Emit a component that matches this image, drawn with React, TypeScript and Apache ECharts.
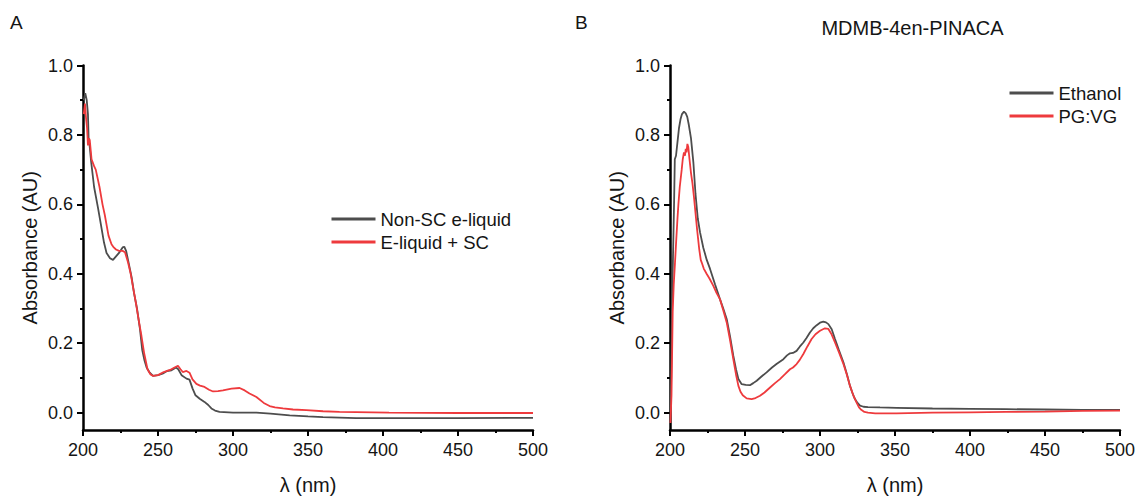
import React, { useEffect, useRef } from "react";
import * as echarts from "echarts";

// ---------- data (wavelength nm, absorbance AU) ----------
const nonScELiquid: [number, number][] = [
  [200.5, 0.9], [201.5, 0.92], [202.5, 0.9], [203.3, 0.86], [203.8, 0.78], [204.4, 0.77],
  [205.5, 0.72], [207.4, 0.65], [210, 0.59], [212, 0.54], [214, 0.49], [215.7, 0.46],
  [218, 0.445], [220, 0.44], [222, 0.45], [224, 0.46], [226.4, 0.476], [227.5, 0.478],
  [228.8, 0.465], [230.5, 0.43], [232.4, 0.39], [234, 0.345], [236, 0.3], [238, 0.24],
  [239.5, 0.18], [241, 0.15], [242.4, 0.13], [244.5, 0.115], [246.7, 0.106], [250, 0.108],
  [253, 0.112], [256, 0.12], [259, 0.122], [262, 0.13], [263.5, 0.125], [265.7, 0.108],
  [269, 0.098], [271, 0.095], [273, 0.07], [275, 0.05], [277.8, 0.04], [281, 0.031],
  [283.5, 0.022], [285.6, 0.012], [288, 0.006], [291, 0.002], [300, 0.0], [310, 0.0],
  [315.6, 0.0], [325, -0.003], [337.8, -0.008], [350, -0.011], [360, -0.013], [382, -0.016],
  [400, -0.016], [450, -0.016], [500, -0.015],
];

const eLiquidSc: [number, number][] = [
  [200.5, 0.86], [201.3, 0.89], [202, 0.85], [202.7, 0.82], [203.3, 0.77], [204, 0.79],
  [204.5, 0.785], [205.7, 0.73], [207.4, 0.71], [208.5, 0.7], [211, 0.65], [213, 0.6],
  [214.5, 0.57], [217, 0.51], [219, 0.485], [220.5, 0.476], [222, 0.47], [224, 0.466],
  [226.4, 0.466], [228, 0.462], [230, 0.433], [231.8, 0.4], [233.6, 0.356], [235.5, 0.31],
  [237, 0.27], [239, 0.22], [240.7, 0.173], [243, 0.125], [245, 0.11], [246.7, 0.106],
  [250, 0.108], [253.8, 0.117], [258, 0.123], [261, 0.13], [263.3, 0.135], [265, 0.125],
  [266.5, 0.117], [269, 0.12], [271, 0.115], [273, 0.096], [275.6, 0.083], [278, 0.078],
  [281, 0.074], [284, 0.066], [286.7, 0.061], [290, 0.062], [293.3, 0.064], [299, 0.069],
  [304.4, 0.071], [307.8, 0.064], [311, 0.055], [315.6, 0.045], [320.5, 0.028],
  [324.4, 0.019], [328, 0.015], [333.3, 0.012], [340, 0.009], [348.9, 0.007], [360, 0.004],
  [371, 0.002], [404, 0.0], [450, -0.001], [500, -0.001],
];

const ethanol: [number, number][] = [
  [200.3, -0.03], [200.8, 0.1], [201.3, 0.29], [202, 0.45], [202.7, 0.6], [203.2, 0.73],
  [204, 0.74], [205, 0.78], [206, 0.82], [207, 0.845], [208, 0.86], [209.3, 0.867],
  [210.5, 0.862], [211.5, 0.852], [212.5, 0.83], [214, 0.79], [215.6, 0.72], [217, 0.63],
  [218.5, 0.56], [220, 0.52], [222.2, 0.475], [224.5, 0.44], [226.7, 0.414], [230, 0.37],
  [233.3, 0.327], [235.5, 0.3], [237.8, 0.27], [240, 0.22], [242.2, 0.164], [244, 0.125],
  [245.6, 0.097], [247.8, 0.082], [250.5, 0.08], [253.3, 0.079], [255.5, 0.085],
  [257.8, 0.092], [261, 0.104], [264.4, 0.116], [268, 0.13], [271, 0.14], [275.6, 0.154],
  [278, 0.165], [280, 0.171], [282, 0.172], [284.4, 0.178], [286.5, 0.19], [288.9, 0.202],
  [291, 0.215], [293.3, 0.231], [295.5, 0.243], [297.8, 0.252], [300, 0.259], [302.2, 0.262],
  [304, 0.26], [305.6, 0.255], [307.8, 0.24], [310, 0.212], [312.6, 0.18], [315.6, 0.145],
  [318, 0.11], [320, 0.077], [321.5, 0.058], [323.3, 0.039], [325, 0.028], [326.7, 0.02],
  [329, 0.017], [332, 0.016], [340, 0.015], [351, 0.014], [375, 0.012], [400, 0.011],
  [424, 0.01], [450, 0.009], [475, 0.008], [500, 0.008],
];

const pgVg: [number, number][] = [
  [200.3, -0.03], [201, 0.05], [201.8, 0.29], [202.5, 0.37], [203.3, 0.43], [204.2, 0.5],
  [205, 0.56], [205.6, 0.6], [206.5, 0.65], [207.8, 0.7], [208.5, 0.73], [209.3, 0.75],
  [210, 0.74], [210.5, 0.76], [211, 0.75], [211.6, 0.774], [212.2, 0.765], [213, 0.73],
  [214, 0.69], [215, 0.66], [216, 0.62], [217, 0.575], [218, 0.53], [219.5, 0.47],
  [220.5, 0.44], [221.1, 0.433], [222.5, 0.415], [224.4, 0.4], [226.5, 0.385],
  [228.9, 0.365], [231, 0.345], [233.3, 0.327], [235.5, 0.295], [237.8, 0.26], [240, 0.21],
  [242.2, 0.154], [244, 0.11], [245.6, 0.077], [247, 0.06], [248.5, 0.05], [251.1, 0.041],
  [254.4, 0.039], [257, 0.042], [260, 0.0485], [263, 0.058], [266.7, 0.0725], [270, 0.085],
  [273.3, 0.0966], [276.5, 0.11], [280, 0.125], [282, 0.13], [284.4, 0.14], [286.5, 0.152],
  [288.9, 0.169], [291.5, 0.19], [294.4, 0.212], [297, 0.226], [300, 0.236], [303.3, 0.243],
  [305.6, 0.241], [307.8, 0.225], [310, 0.202], [312.8, 0.172], [315.6, 0.14], [318, 0.108],
  [320, 0.077], [322.2, 0.05], [324.4, 0.029], [326, 0.015], [327.5, 0.008], [329.6, 0.002],
  [332, 0.0], [336.8, -0.002], [351, -0.002], [375, 0.0], [400, 0.001], [424, 0.002],
  [450, 0.003], [475, 0.005], [500, 0.006],
];

const yMajorTicks = [0, 0.2, 0.4, 0.6, 0.8, 1.0];
const yMinorTicks = [0.1, 0.3, 0.5, 0.7, 0.9];

const seriesNamesA = ["Non-SC e-liquid", "E-liquid + SC"];
const seriesNamesB = ["Ethanol", "PG:VG"];
const panelTitleB = "MDMB-4en-PINACA";
const xAxisName = "λ (nm)";
const yAxisName = "Absorbance (AU)";

// ---------- styles ----------
const FONT = '"Liberation Sans", Arial, Helvetica, sans-serif';
const GRAY = "#4d4d4d";
const RED = "#ee3a3d";
const INK = "#151515";

function makeXAxis(gridIndex: number) {
  return {
    type: "value",
    gridIndex,
    min: 200,
    max: 500,
    interval: 50,
    name: xAxisName,
    nameLocation: "middle",
    nameGap: 45,
    nameTextStyle: { fontSize: 20, color: INK, fontFamily: FONT },
    axisLine: { show: true, onZero: false, lineStyle: { color: "#000", width: 2.5 } },
    axisTick: { show: true, length: 6, lineStyle: { color: "#000", width: 2 } },
    minorTick: { show: true, splitNumber: 2, length: 3, lineStyle: { color: "#000", width: 2 } },
    axisLabel: { fontSize: 18, color: INK, fontFamily: FONT, margin: 11 },
    splitLine: { show: false },
  };
}

function makeYAxes(gridIndex: number) {
  return [
    {
      type: "value",
      gridIndex,
      position: "left",
      min: -0.05,
      max: 1.0,
      name: yAxisName,
      nameLocation: "middle",
      nameGap: 43,
      nameTextStyle: { fontSize: 20, color: INK, fontFamily: FONT },
      axisLine: { show: true, onZero: false, lineStyle: { color: "#000", width: 2.5 } },
      axisTick: { show: true, length: 6, customValues: yMajorTicks, lineStyle: { color: "#000", width: 2 } },
      axisLabel: {
        fontSize: 18,
        color: INK,
        fontFamily: FONT,
        margin: 10,
        customValues: yMajorTicks,
        formatter: (v: number) => v.toFixed(1),
      },
      splitLine: { show: false },
    },
    {
      type: "value",
      gridIndex,
      position: "left",
      min: -0.05,
      max: 1.0,
      axisLine: { show: false },
      axisTick: { show: true, length: 3, customValues: yMinorTicks, lineStyle: { color: "#000", width: 2 } },
      axisLabel: { show: false },
      splitLine: { show: false },
    },
  ];
}

function lineSeries(name: string, data: [number, number][], color: string, axisIdx: number, yIdx: number) {
  return {
    type: "line",
    name,
    data,
    xAxisIndex: axisIdx,
    yAxisIndex: yIdx,
    showSymbol: false,
    symbol: "none",
    color,
    lineStyle: { color, width: 1.8 },
    itemStyle: { color },
    emphasis: { disabled: true },
  };
}

function legendBlock(left: number, top: number, names: string[]) {
  return {
    left,
    top,
    orient: "vertical",
    padding: 0,
    itemWidth: 44,
    itemHeight: 3,
    itemGap: 0,
    selectedMode: false,
    textStyle: { fontSize: 18.5, lineHeight: 23, color: INK, fontFamily: FONT },
    data: names.map((n) => ({ name: n, icon: "rect" })),
  };
}

export default function App() {
  const ref = useRef<HTMLDivElement>(null);

  useEffect(() => {
    if (!ref.current) return;
    const chart = echarts.init(ref.current, undefined, { renderer: "svg" });
    const yA = makeYAxes(0);
    const yB = makeYAxes(1);
    chart.setOption({
      animation: false,
      backgroundColor: "#ffffff",
      grid: [
        { left: 83, top: 65.5, width: 450, height: 365, containLabel: false },
        { left: 670, top: 65.5, width: 450, height: 365, containLabel: false },
      ],
      xAxis: [makeXAxis(0), makeXAxis(1)],
      yAxis: [...yA, ...yB],
      legend: [
        legendBlock(331.5, 207.5, seriesNamesA),
        legendBlock(1009.5, 81.5, seriesNamesB),
      ],
      graphic: [
        {
          type: "text",
          x: 10,
          y: 22,
          style: { text: "A", font: `19px ${FONT}`, fill: INK, textAlign: "left", textVerticalAlign: "middle", align: "left", verticalAlign: "middle" },
        },
        {
          type: "text",
          x: 575,
          y: 22,
          style: { text: "B", font: `19px ${FONT}`, fill: INK, textAlign: "left", textVerticalAlign: "middle", align: "left", verticalAlign: "middle" },
        },
        {
          type: "text",
          x: 912.5,
          y: 28,
          style: { text: panelTitleB, font: `20px ${FONT}`, fill: INK, textAlign: "center", textVerticalAlign: "middle", align: "center", verticalAlign: "middle" },
        },
      ],
      series: [
        lineSeries(seriesNamesA[0], nonScELiquid, GRAY, 0, 0),
        lineSeries(seriesNamesA[1], eLiquidSc, RED, 0, 0),
        lineSeries(seriesNamesB[0], ethanol, GRAY, 1, 2),
        lineSeries(seriesNamesB[1], pgVg, RED, 1, 2),
      ],
    });
    return () => chart.dispose();
  }, []);

  return (
    <div
      ref={ref}
      style={{ position: "fixed", left: 0, top: 0, width: 1139, height: 500, background: "#fff" }}
    />
  );
}
